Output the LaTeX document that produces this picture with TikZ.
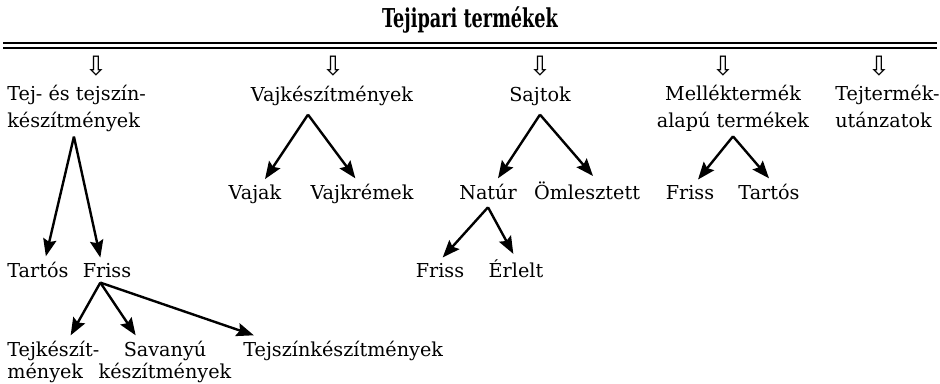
\documentclass[tikz,border=0pt]{standalone}
\usepackage{fontspec}
\setmainfont{DejaVu Serif}
\newfontfamily\titlefont{DejaVu Serif}[FakeStretch=0.68]
\newfontfamily\arrowfont{DejaVu Sans}
\usetikzlibrary{arrows.meta}

\begin{document}
\begin{tikzpicture}[x=0.75pt,y=-0.75pt,
    txt/.style={font=\fontsize{14.4}{20}\selectfont, inner sep=1pt, outer sep=3pt},
    tight/.style={txt, font=\fontsize{14.4}{16.5}\selectfont},
    arr/.style={-{Stealth[length=13pt,width=10pt,inset=2pt]}, line width=1.8pt},
    down/.style={font=\arrowfont\fontsize{20}{20}\selectfont, inner sep=0pt}]
    \useasboundingbox (0,0) rectangle (940,383);

    % cím és dupla vonal
    \node[anchor=base, font=\titlefont\bfseries\fontsize{19.5}{22}\selectfont] (title) at (470,27) {Tejipari termékek};
    \draw[line width=1.5pt] (3,43) -- (937,43) (3,48) -- (937,48);
    \foreach \x/\n in {96/d1, 333/d2, 540/d3, 723/d4, 879/d5}
        \node[down] (\n) at (\x,66) {⇩};

    % főcsoportok (többsoros csomópontoknál a base az utolsó sor)
    \node[txt, anchor=base west, align=left] (tej) at (2,127) {Tej- és tejszín-\\készítmények};
    \node[txt, anchor=base] (vaj) at (332,101) {Vajkészítmények};
    \node[txt, anchor=base] (sajt) at (540,101) {Sajtok};
    \node[txt, anchor=base, align=center] (mell) at (733,127) {Melléktermék\\alapú termékek};
    \node[txt, anchor=base west, align=left] (utanzat) at (830,127) {Tejtermék-\\utánzatok};

    % második szint
    \node[txt, anchor=base] (vajak) at (255,199) {Vajak};
    \node[txt, anchor=base] (vajkrem) at (362,199) {Vajkrémek};
    \node[txt, anchor=base] (natur) at (488,199) {Natúr};
    \node[txt, anchor=base] (omleszt) at (587,199) {Ömlesztett};
    \node[txt, anchor=base] (mfriss) at (690,199) {Friss};
    \node[txt, anchor=base] (mtartos) at (769,199) {Tartós};

    \node[txt, anchor=base west] (tartos) at (2,277) {Tartós};
    \node[txt, anchor=base] (friss) at (107,277) {Friss};
    \node[txt, anchor=base] (sfriss) at (440,277) {Friss};
    \node[txt, anchor=base] (erlelt) at (516,277) {Érlelt};

    \node[tight, anchor=base west, align=left] (tejkesz) at (2,378) {Tejkészít-\\mények};
    \node[tight, anchor=base, align=center] (savanyu) at (165,378) {Savanyú\\készítmények};
    \node[txt, anchor=base west] (tejszin) at (238,356) {Tejszínkészítmények};

    % elágazások
    \draw[arr] ([xshift=-2pt]tej.south) -- ([xshift=6pt]tartos.north);
    \draw[arr] ([xshift=-2pt]tej.south) -- ([xshift=-5pt]friss.north);
    \draw[arr] ([xshift=-5pt]friss.south) -- ([xshift=13pt]tejkesz.north);
    \draw[arr] ([xshift=-5pt]friss.south) -- ([xshift=-22pt]savanyu.north);
    \draw[arr] ([xshift=-5pt]friss.south) -- ([xshift=-67pt]tejszin.north);
    \draw[arr] ([xshift=-18pt,yshift=-3pt]vaj.south) -- ([xshift=7.5pt]vajak.north);
    \draw[arr] ([xshift=-18pt,yshift=-3pt]vaj.south) -- ([xshift=-5pt]vajkrem.north);
    \draw[arr] ([yshift=-3pt]sajt.south) -- ([xshift=7.5pt]natur.north);
    \draw[arr] ([yshift=-3pt]sajt.south) -- ([xshift=4.5pt]omleszt.north);
    \draw[arr] ([yshift=-2pt]natur.south) -- ([xshift=2pt]sfriss.north);
    \draw[arr] ([yshift=-2pt]natur.south) -- ([xshift=-2pt]erlelt.north);
    \draw[arr] (mell.south) -- ([xshift=6pt]mfriss.north);
    \draw[arr] (mell.south) -- (mtartos.north);
\end{tikzpicture}
\end{document}
